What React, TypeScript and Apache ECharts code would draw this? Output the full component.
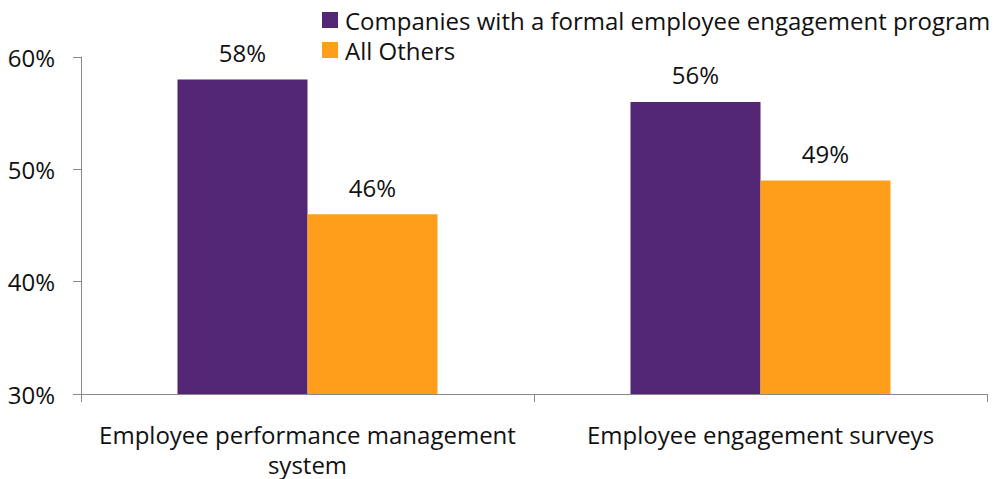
import React, { useEffect, useRef } from "react";
import * as echarts from "echarts";

const categories = ["Employee performance management\nsystem", "Employee engagement surveys"];
const seriesNames = ["Companies with a formal employee engagement program", "All Others"];
const formalProgram = [58, 56];
const allOthers = [46, 49];
const yTicks = [30, 40, 50, 60];

const FONT = "'Open Sans', sans-serif";
const FS = 24;

export default function App() {
  const ref = useRef<HTMLDivElement>(null);
  useEffect(() => {
    const chart = echarts.init(ref.current!, null, { renderer: "svg" });
    chart.setOption({
      animation: false,
      textStyle: { fontFamily: FONT },
      legend: {
        orient: "vertical",
        left: 317,
        top: 3,
        itemWidth: 16,
        itemHeight: 16,
        itemGap: 6,
        icon: "rect",
        textStyle: { fontSize: FS, color: "#111", fontFamily: FONT, padding: [0, 0, 0, 2] },
        data: seriesNames,
      },
      grid: { left: 81, right: 12, top: 57, bottom: 85 },
      xAxis: {
        type: "category",
        data: categories,
        axisLine: { show: true, lineStyle: { color: "#888", width: 1 } },
        axisTick: { show: true, length: 8, lineStyle: { color: "#888" } },
        axisLabel: { fontSize: FS, color: "#111", lineHeight: 30, margin: 25, fontFamily: FONT, interval: 0, hideOverlap: false },
      },
      yAxis: {
        type: "value",
        min: yTicks[0],
        max: yTicks[yTicks.length - 1],
        interval: 10,
        splitLine: { show: false },
        axisLine: { show: true, lineStyle: { color: "#888", width: 1 } },
        axisTick: { show: true, inside: false, length: 8, lineStyle: { color: "#888" } },
        axisLabel: { fontSize: FS, color: "#111", margin: 26, formatter: "{value}%", fontFamily: FONT },
      },
      series: [
        {
          name: seriesNames[0],
          type: "bar",
          data: formalProgram,
          barWidth: 130,
          barGap: "0%",
          itemStyle: { color: "#522575" },
          label: { show: true, position: "top", distance: 15, formatter: "{c}%", fontSize: FS, color: "#111", fontFamily: FONT },
        },
        {
          name: seriesNames[1],
          type: "bar",
          data: allOthers,
          barWidth: 130,
          barGap: "0%",
          itemStyle: { color: "#FF9E1B" },
          label: { show: true, position: "top", distance: 15, formatter: "{c}%", fontSize: FS, color: "#111", fontFamily: FONT },
        },
      ],
    });
    return () => chart.dispose();
  }, []);
  return <div ref={ref} style={{ position: "absolute", left: 0, top: 0, width: 999, height: 479 }} />;
}
